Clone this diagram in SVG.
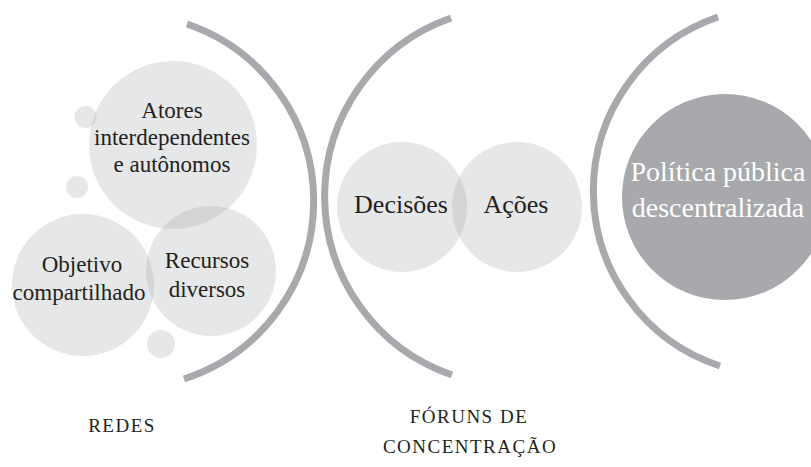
<svg xmlns="http://www.w3.org/2000/svg" width="811" height="467" viewBox="0 0 811 467">
<style>
.bub{fill:#a7a9ac;fill-opacity:0.28}
.arc{fill:none;stroke:#a7a9ac;stroke-width:7}
.t{font-family:"Liberation Serif","DejaVu Serif",serif;fill:#231f20;text-anchor:middle}
.s{font-size:23px}
.m{font-size:26px}
.w{font-family:"Liberation Serif","DejaVu Serif",serif;fill:#ffffff;text-anchor:middle;font-size:28px}
.cap{font-size:19px;letter-spacing:1.5px}
</style>
<rect width="811" height="467" fill="#ffffff"/>
<g id="brackets">
<path class="arc" d="M187 24 A187 187 0 0 1 184 379"/>
<path class="arc" d="M451 18 A189 189 0 0 0 452 375"/>
<path class="arc" d="M718 17 A184 184 0 0 0 720 366"/>
</g>
<g id="redes">
<circle class="bub" cx="85.5" cy="117" r="11"/>
<circle class="bub" cx="77" cy="187" r="11"/>
<circle class="bub" cx="161" cy="344" r="14"/>
<g id="atores">
<circle class="bub" cx="173" cy="145" r="84"/>
<text class="t s" x="172" y="118">Atores</text>
<text class="t s" x="172" y="145">interdependentes</text>
<text class="t s" x="172" y="172">e autônomos</text>
</g>
<g id="objetivo">
<circle class="bub" cx="83" cy="285" r="71"/>
<text class="t s" x="82" y="272">Objetivo</text>
<text class="t s" x="79" y="300">compartilhado</text>
</g>
<g id="recursos">
<circle class="bub" cx="211" cy="271" r="65"/>
<text class="t s" x="207" y="268">Recursos</text>
<text class="t s" x="207" y="297">diversos</text>
</g>
<text class="t cap" x="122" y="432">REDES</text>
</g>
<g id="foruns">
<g id="decisoes">
<circle class="bub" cx="402" cy="207" r="65"/>
<text class="t m" x="401" y="213">Decisões</text>
</g>
<g id="acoes">
<circle class="bub" cx="517" cy="207" r="65"/>
<text class="t m" x="516" y="213">Ações</text>
</g>
<text class="t cap" x="469" y="423">FÓRUNS DE</text>
<text class="t cap" x="470" y="453">CONCENTRAÇÃO</text>
</g>
<g id="politica">
<circle cx="725" cy="197" r="103" fill="#a7a9ac"/>
<text class="w" x="718" y="181">Política pública</text>
<text class="w" x="718" y="217">descentralizada</text>
</g>
</svg>
